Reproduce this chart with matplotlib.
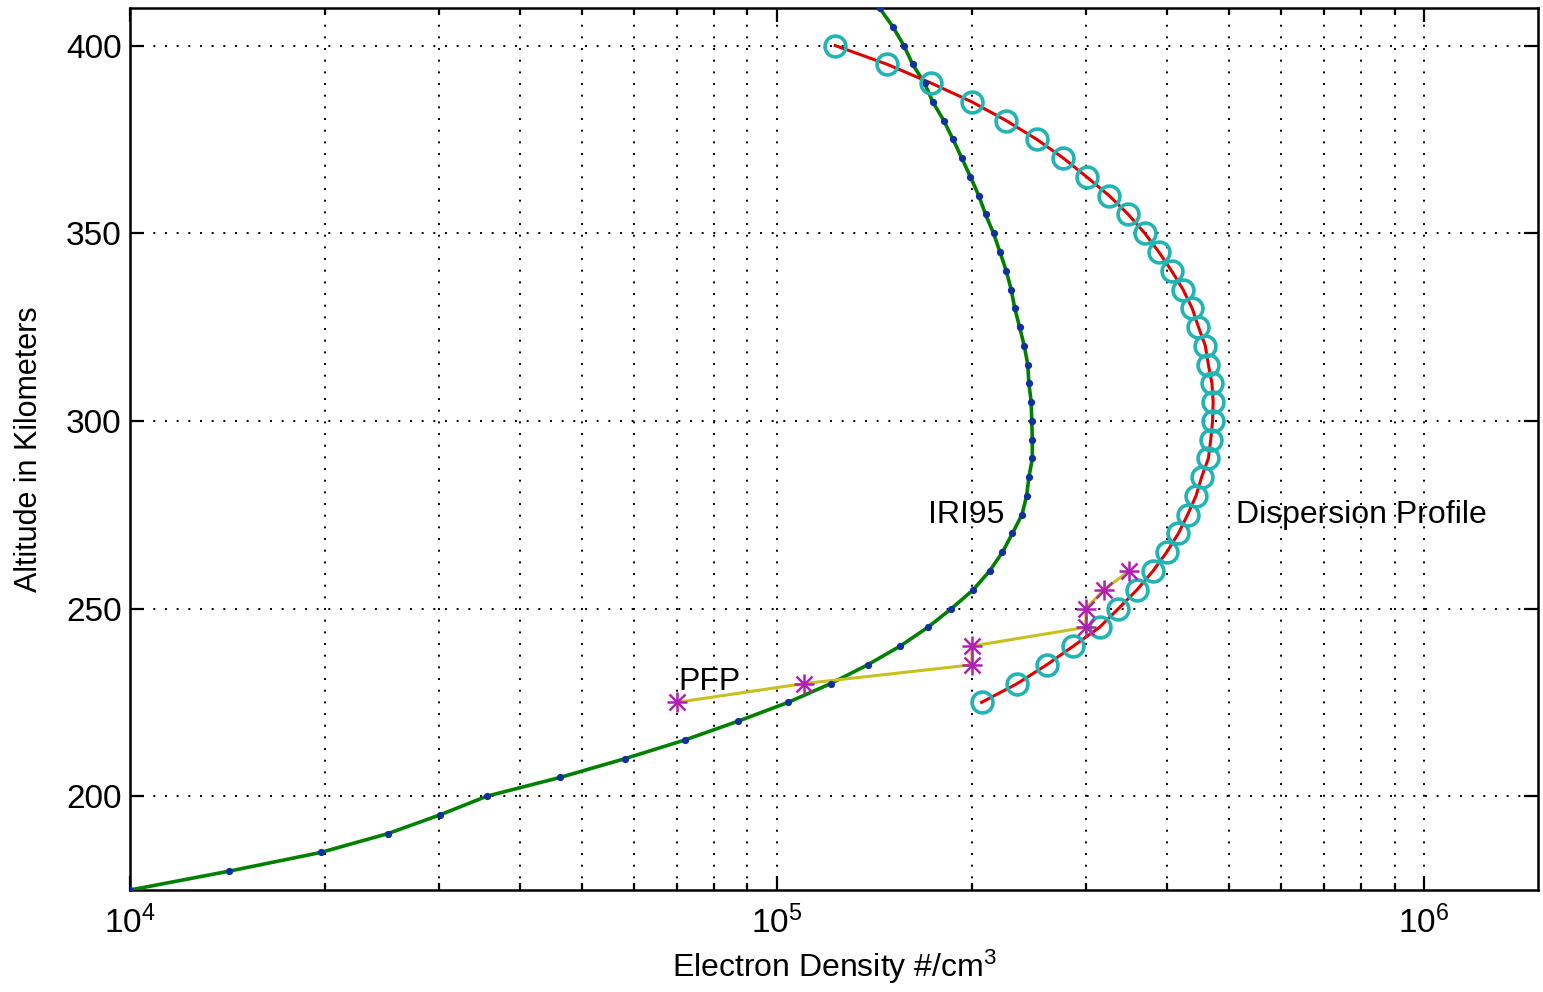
import matplotlib
matplotlib.use("Agg")
import matplotlib.pyplot as plt
from matplotlib import ticker

plt.rcParams["font.family"] = ["Liberation Sans", "DejaVu Sans"]
plt.rcParams["mathtext.fontset"] = "custom"
plt.rcParams["mathtext.rm"] = "Liberation Sans"
plt.rcParams["mathtext.default"] = "regular"

# %% data
iri_alt = [175, 180, 185, 190, 195, 200, 205, 210, 215, 220, 225, 230, 235, 240,
           245, 250, 255, 260, 265, 270, 275, 280, 285, 290, 295, 300, 305, 310,
           315, 320, 325, 330, 335, 340, 345, 350, 355, 360, 365, 370, 375, 380,
           385, 390, 395, 400, 405, 410]
iri_dens = [1.00e4, 1.42e4, 1.97e4, 2.50e4, 3.01e4, 3.56e4, 4.62e4, 5.82e4, 7.21e4,
            8.71e4, 1.04e5, 1.21e5, 1.38e5, 1.55e5, 1.71e5, 1.86e5, 2.01e5, 2.13e5,
            2.23e5, 2.31e5, 2.39e5, 2.43e5, 2.45e5, 2.48e5, 2.48e5, 2.475e5, 2.47e5,
            2.45e5, 2.44e5, 2.41e5, 2.37e5, 2.33e5, 2.30e5, 2.26e5, 2.21e5, 2.16e5,
            2.10e5, 2.05e5, 1.99e5, 1.93e5, 1.87e5, 1.81e5, 1.74e5, 1.69e5, 1.62e5,
            1.57e5, 1.51e5, 1.44e5]

disp_alt = [225, 230, 235, 240, 245, 250, 255, 260, 265, 270, 275, 280, 285, 290,
            295, 300, 305, 310, 315, 320, 325, 330, 335, 340, 345, 350, 355, 360,
            365, 370, 375, 380, 385, 390, 395, 400]
disp_dens = [2.07e5, 2.35e5, 2.61e5, 2.87e5, 3.15e5, 3.37e5, 3.60e5, 3.81e5, 4.00e5,
             4.17e5, 4.31e5, 4.44e5, 4.53e5, 4.64e5, 4.68e5, 4.71e5, 4.72e5, 4.70e5,
             4.64e5, 4.59e5, 4.48e5, 4.38e5, 4.24e5, 4.07e5, 3.89e5, 3.70e5, 3.49e5,
             3.26e5, 3.01e5, 2.77e5, 2.52e5, 2.26e5, 2.00e5, 1.73e5, 1.48e5, 1.23e5]

pfp_alt = [225, 230, 235, 240, 245, 250, 255, 260]
pfp_dens = [7.0e4, 1.10e5, 2.0e5, 2.0e5, 3.0e5, 3.0e5, 3.2e5, 3.5e5]

# %% plot
fig = plt.figure(figsize=(15.43, 9.92), dpi=100)
ax = fig.add_axes([0.0843, 0.1028, 0.9125, 0.8891])

ax.plot(iri_dens, iri_alt, color="#008000", lw=2.6, zorder=3)
ax.plot(iri_dens, iri_alt, ls="none", marker="o", ms=4.2, mfc="#1030a0",
        mec="#1030a0", zorder=4)

ax.plot(disp_dens, disp_alt, color="#e00000", lw=2.2, zorder=3)
ax.plot(disp_dens, disp_alt, ls="none", marker="o", ms=15, mfc="none",
        mec="#20b4b4", mew=2.6, zorder=4)

# asterisk markers = plus + cross
ax.plot(pfp_dens, pfp_alt, color="#c8c020", lw=2.2, zorder=3)
ax.plot(pfp_dens, pfp_alt, ls="none", marker="+", ms=14, mec="#b020b0",
        mew=1.8, zorder=4)
ax.plot(pfp_dens, pfp_alt, ls="none", marker="x", ms=11, mec="#b020b0",
        mew=1.8, zorder=4)

ax.set_xscale("log")
ax.set_xlim(1e4, 1.5e6)
ax.set_ylim(175, 410)
ax.set_yticks([200, 250, 300, 350, 400])
ax.xaxis.set_major_formatter(ticker.LogFormatterMathtext())
ax.xaxis.set_minor_formatter(ticker.NullFormatter())

ax.grid(True, which="both", axis="x", color="black", ls=(0, (1, 5)), lw=1.4)
ax.grid(True, which="major", axis="y", color="black", ls=(0, (1, 5)), lw=1.4)

ax.tick_params(which="both", direction="in", top=True, right=True,
               labelsize=24, width=1.6)
ax.tick_params(which="major", length=10)
ax.tick_params(axis="x", which="major", pad=11)
ax.tick_params(axis="y", which="major", pad=6)
ax.tick_params(which="minor", length=5)
for s in ax.spines.values():
    s.set_linewidth(1.8)

ax.set_xlabel("Electron Density #/cm$^3$", fontsize=23, labelpad=6)
ax.set_ylabel("Altitude in Kilometers", fontsize=22, labelpad=16)

ax.text(1.71e5, 275, "IRI95", fontsize=23, ha="left", va="center")
ax.text(5.12e5, 275, "Dispersion Profile", fontsize=23, ha="left", va="center")
ax.text(7.03e4, 230.5, "PFP", fontsize=23, ha="left", va="center")

fig.savefig("out.png", dpi=100)
